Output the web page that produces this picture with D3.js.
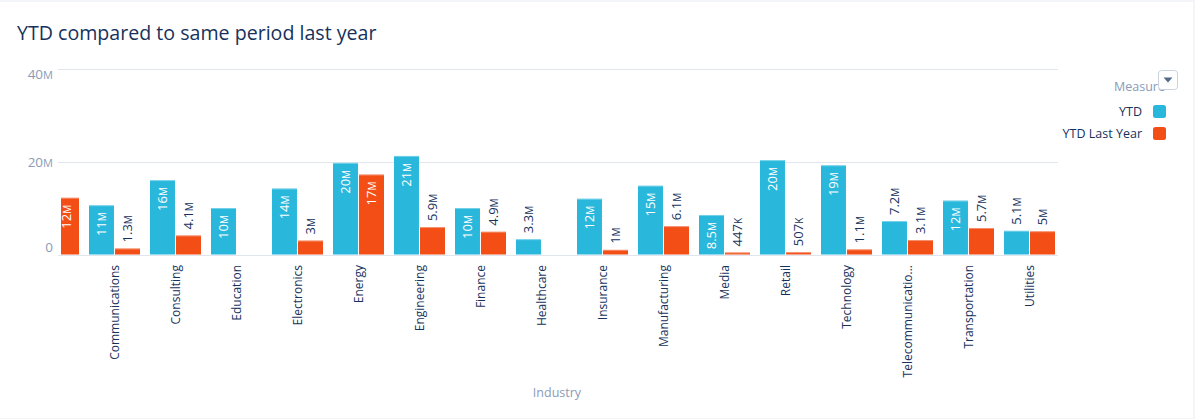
<!DOCTYPE html>
<html><head><meta charset="utf-8">
<script src="https://cdn.jsdelivr.net/npm/d3@7"></script>
<style>
html,body{margin:0;padding:0;background:#f3f5f8;}
svg{display:block;font-family:"Open Sans","Noto Sans",sans-serif;}
</style></head>
<body><svg id="chart" width="1195" height="419"></svg>
<script>
const categories = ["", "Communications","Consulting","Education","Electronics","Energy","Engineering","Finance","Healthcare","Insurance","Manufacturing","Media","Retail","Technology","Telecommunicatio...","Transportation","Utilities"];
const ytd =        [null, 10.6e6, 16e6, 10.0e6, 14.2e6, 19.7e6, 21.2e6, 10.0e6, 3.3e6, 12.0e6, 14.8e6, 8.5e6, 20.3e6, 19.2e6, 7.2e6, 11.6e6, 5.1e6];
const ytdLastYear =[12.2e6, 1.3e6, 4.1e6, null, 3.0e6, 17.2e6, 5.9e6, 4.9e6, null, 1.0e6, 6.1e6, 447e3, 507e3, 1.1e6, 3.1e6, 5.7e6, 5.0e6];
const seriesNames = ["YTD","YTD Last Year"];
const yTicks = [0, 20e6, 40e6];

const colors = ["#29b8dc","#f24e16"];
const svg = d3.select("#chart");
const W = 1195, H = 419;

// card
svg.append("rect").attr("x",0).attr("y",2).attr("width",1193).attr("height",416).attr("fill","#fff");

// title
svg.append("text").attr("x",17).attr("y",40).attr("font-size",19.6).attr("fill","#16325c")
  .text("YTD compared to same period last year");

const plotL = 58, plotR = 1058, clipL = 61;
const step = 61;
const firstCenter = 114.5 - step;
const x0 = d3.scaleBand().domain(d3.range(categories.length))
  .range([firstCenter - step/2, firstCenter - step/2 + step*categories.length]).paddingInner(0).paddingOuter(0);
const x1 = d3.scaleBand().domain([0,1]).range([5, 56]).paddingInner(0.04).paddingOuter(0);
const y = d3.scaleLinear().domain([0,40e6]).range([254.5, 68.5]);

// gridlines
svg.append("g").selectAll("line").data(yTicks).join("line")
  .attr("x1",plotL).attr("x2",plotR).attr("y1",d=>Math.round(y(d))+0.5).attr("y2",d=>Math.round(y(d))+0.5)
  .attr("stroke","#e0e5ee").attr("stroke-width",1);

// y axis labels
const yLabelBaseline = {0:252, 20000000:167, 40000000:79};
const yl = svg.append("g").selectAll("text").data(yTicks).join("text")
  .attr("x",53).attr("y",d=>yLabelBaseline[d]).attr("text-anchor","end").attr("font-size",13.5).attr("fill","#8a9bb7");
yl.each(function(d){
  const t = d3.select(this);
  if(d===0){ t.text("0"); return; }
  t.append("tspan").text(d/1e6);
  t.append("tspan").attr("font-size",11).text("M");
});

svg.append("clipPath").attr("id","pc").append("rect").attr("x",clipL).attr("y",0).attr("width",plotR-clipL).attr("height",H);

function fmt(v){
  if(v>=1e6) return {n:d3.format(".2~r")(v/1e6), u:"M"};
  return {n:Math.round(v/1e3)+"", u:"K"};
}

const data = [];
categories.forEach((c,i)=>{
  [ytd[i], ytdLastYear[i]].forEach((v,s)=>{ if(v!=null) data.push({i,s,v}); });
});

const g = svg.append("g").attr("clip-path","url(#pc)");
g.selectAll("rect.bar").data(data).join("rect").attr("class","bar")
  .attr("x",d=>x0(d.i)+x1(d.s)).attr("width",x1.bandwidth())
  .attr("y",d=>y(d.v)).attr("height",d=>y(0)-y(d.v))
  .attr("fill",d=>colors[d.s]);
g.selectAll("rect.hl").data(data).join("rect").attr("class","hl")
  .attr("x",d=>x0(d.i)+x1(d.s)).attr("width",x1.bandwidth())
  .attr("y",d=>y(d.v)).attr("height",1)
  .attr("fill","#fff").attr("opacity",0.35);

// value labels
const lab = g.selectAll("text.val").data(data).join("text").attr("class","val")
  .attr("font-size",13)
  .attr("transform",d=>{
    const cx = x0(d.i)+x1(d.s)+x1.bandwidth()/2 + 4.5;
    const h = y(0)-y(d.v);
    d.inside = h >= 36;
    const ty = d.inside ? y(d.v)+7 : y(d.v)-6;
    return `translate(${cx},${ty}) rotate(-90)`;
  })
  .attr("text-anchor",d=>d.inside?"end":"start")
  .attr("fill",d=>d.inside?"#fff":"#16325c");
lab.each(function(d){
  const f = fmt(d.v); const t = d3.select(this);
  t.append("tspan").text(f.n);
  t.append("tspan").attr("font-size",10).text(f.u);
});

// category labels
svg.append("g").selectAll("text").data(categories).join("text")
  .attr("transform",(d,i)=>`translate(${x0(i)+step/2+4.5},265) rotate(-90)`)
  .attr("text-anchor","end").attr("font-size",12).attr("fill","#16325c").text(d=>d);

// x axis title
svg.append("text").attr("x",557).attr("y",397).attr("text-anchor","middle").attr("font-size",12.5)
  .attr("fill","#8a9bb7").text("Industry");

// legend
svg.append("text").attr("x",1165).attr("y",91).attr("text-anchor","end").attr("font-size",12.5)
  .attr("fill","#8a9bb7").text("Measure");
const btn = svg.append("g");
btn.append("rect").attr("x",1158.5).attr("y",70.5).attr("width",19).attr("height",19).attr("rx",3)
  .attr("fill","#fff").attr("stroke","#c9d3e0");
btn.append("path").attr("d","M1163.5,77.5 L1172.5,77.5 L1168,82.5 Z").attr("fill","#54698d");
const lg = svg.append("g").selectAll("g").data(seriesNames).join("g")
  .attr("transform",(d,i)=>`translate(0,${111+i*22})`);
lg.append("text").attr("x",1142).attr("y",5).attr("text-anchor","end").attr("font-size",12.5)
  .attr("fill","#16325c").text(d=>d);
lg.append("rect").attr("x",1153).attr("y",-6).attr("width",13).attr("height",13).attr("rx",2.5)
  .attr("fill",(d,i)=>colors[i]);
</script></body></html>
